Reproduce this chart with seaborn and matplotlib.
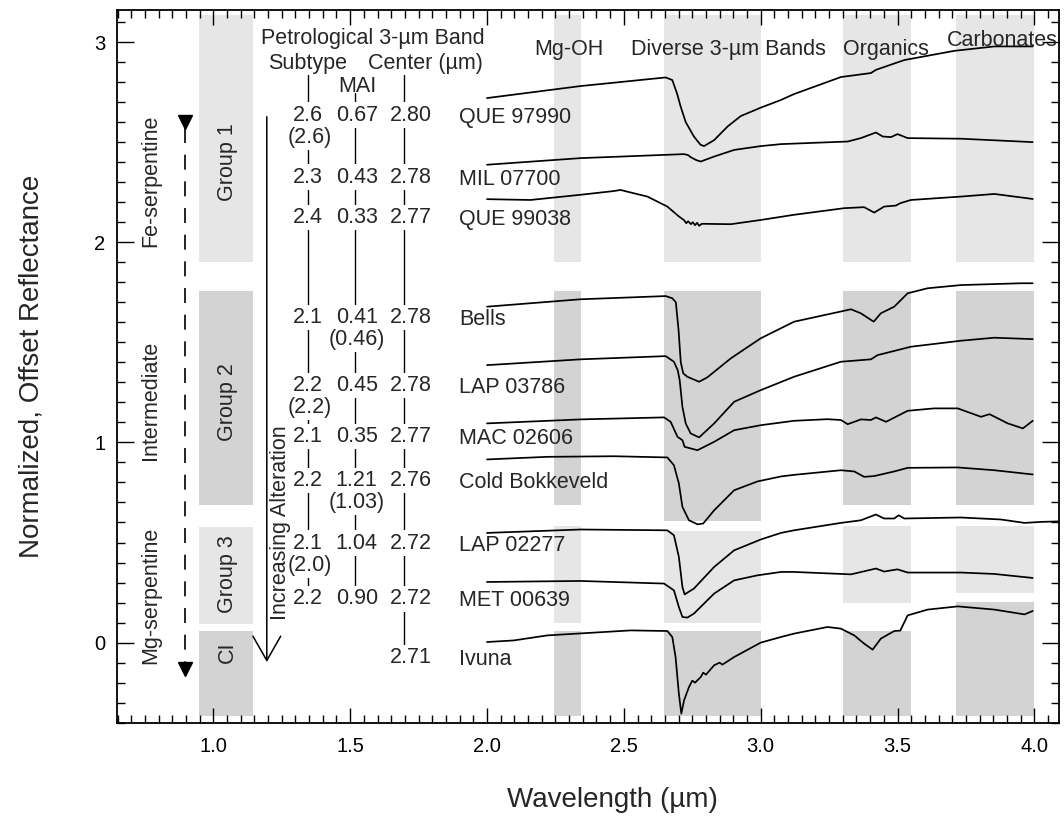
import matplotlib
matplotlib.use("Agg")
import matplotlib.pyplot as plt
import numpy as np
import pandas as pd
import seaborn as sns
from matplotlib.ticker import MultipleLocator

# ---------------- data ----------------
sample_names = ["QUE 97990", "MIL 07700", "QUE 99038", "Bells", "LAP 03786",
                "MAC 02606", "Cold Bokkeveld", "LAP 02277", "MET 00639", "Ivuna"]
subtype = ["2.6", "2.3", "2.4", "2.1", "2.2", "2.1", "2.2", "2.1", "2.2", ""]
subtype_alt = ["(2.6)", "", "", "", "(2.2)", "", "", "(2.0)", "", ""]
mai = ["0.67", "0.43", "0.33", "0.41", "0.45", "0.35", "1.21", "1.04", "0.90", ""]
mai_alt = ["", "", "", "(0.46)", "", "", "(1.03)", "", "", ""]
band_center = ["2.80", "2.78", "2.77", "2.78", "2.78", "2.77", "2.76", "2.72", "2.72", "2.71"]

wl_que97990 = [2.0, 2.342, 2.653, 2.677, 2.695, 2.707, 2.726, 2.756, 2.78, 2.793, 2.83,
               2.879, 2.927, 3.0, 3.073, 3.122, 3.293, 3.403, 3.421, 3.525, 3.708, 3.854, 3.994]
r_que97990 = [2.72, 2.78, 2.823, 2.81, 2.74, 2.68, 2.6, 2.528, 2.487, 2.48, 2.51,
              2.578, 2.63, 2.672, 2.71, 2.74, 2.825, 2.845, 2.861, 2.91, 2.956, 2.978, 2.978]

wl_mil07700 = [2.0, 2.342, 2.72, 2.735, 2.744, 2.765, 2.781, 2.83, 2.903, 3.0, 3.074,
               3.318, 3.366, 3.421, 3.446, 3.476, 3.5, 3.537, 3.732, 3.994]
r_mil07700 = [2.387, 2.42, 2.44, 2.435, 2.425, 2.41, 2.403, 2.428, 2.461, 2.48, 2.49,
              2.503, 2.52, 2.548, 2.528, 2.525, 2.54, 2.52, 2.517, 2.5]

wl_que99038 = [2.0, 2.159, 2.342, 2.46, 2.488, 2.52, 2.586, 2.659, 2.70, 2.72, 2.728, 2.735,
               2.745, 2.752, 2.76, 2.768, 2.775, 2.785, 2.891, 3.0, 3.122, 3.305, 3.378,
               3.415, 3.451, 3.494, 3.51, 3.549, 3.732, 3.854, 3.994]
r_que99038 = [2.215, 2.211, 2.237, 2.255, 2.261, 2.25, 2.228, 2.178, 2.13, 2.11, 2.095, 2.105,
              2.09, 2.1, 2.085, 2.097, 2.082, 2.092, 2.09, 2.111, 2.137, 2.17, 2.175,
              2.148, 2.178, 2.183, 2.195, 2.211, 2.228, 2.241, 2.216]

wl_bells = [2.0, 2.342, 2.653, 2.677, 2.69, 2.70, 2.708, 2.717, 2.732, 2.775, 2.805, 2.891,
            3.0, 3.122, 3.33, 3.366, 3.413, 3.439, 3.488, 3.537, 3.61, 3.732, 3.952, 3.994]
r_bells = [1.678, 1.715, 1.731, 1.72, 1.70, 1.56, 1.40, 1.345, 1.328, 1.303, 1.325, 1.42,
           1.52, 1.603, 1.665, 1.645, 1.603, 1.645, 1.678, 1.745, 1.77, 1.786, 1.795, 1.795]

wl_lap03786 = [2.0, 2.342, 2.653, 2.683, 2.697, 2.704, 2.714, 2.726, 2.744, 2.775, 2.83,
               2.903, 3.0, 3.122, 3.293, 3.403, 3.427, 3.549, 3.732, 3.854, 3.994]
r_lap03786 = [1.386, 1.415, 1.431, 1.403, 1.36, 1.311, 1.178, 1.095, 1.045, 1.025, 1.095,
              1.203, 1.261, 1.328, 1.403, 1.415, 1.436, 1.478, 1.508, 1.523, 1.516]

wl_mac02606 = [2.0, 2.342, 2.647, 2.671, 2.696, 2.714, 2.722, 2.744, 2.769, 2.83, 2.903,
               3.0, 3.122, 3.244, 3.293, 3.318, 3.366, 3.403, 3.421, 3.458, 3.537, 3.634,
               3.72, 3.805, 3.836, 3.903, 3.958, 3.994]
r_mac02606 = [1.095, 1.115, 1.125, 1.103, 1.028, 1.011, 0.978, 0.97, 0.961, 1.003, 1.061,
              1.086, 1.108, 1.116, 1.112, 1.091, 1.115, 1.112, 1.125, 1.103, 1.158, 1.17,
              1.17, 1.128, 1.141, 1.095, 1.07, 1.108]

wl_coldbok = [2.0, 2.22, 2.464, 2.659, 2.683, 2.701, 2.714, 2.738, 2.769, 2.79, 2.83,
              2.903, 2.988, 3.074, 3.122, 3.293, 3.342, 3.378, 3.415, 3.488, 3.537,
              3.72, 3.854, 3.994]
r_coldbok = [0.915, 0.928, 0.931, 0.925, 0.886, 0.795, 0.678, 0.611, 0.591, 0.595, 0.661,
             0.761, 0.805, 0.83, 0.838, 0.861, 0.855, 0.828, 0.832, 0.855, 0.873,
             0.875, 0.861, 0.84]

wl_lap02277 = [2.0, 2.342, 2.659, 2.683, 2.701, 2.714, 2.722, 2.756, 2.83, 2.903, 3.0,
               3.074, 3.122, 3.293, 3.366, 3.421, 3.451, 3.488, 3.504, 3.525, 3.732,
               3.878, 3.964, 4.025, 4.1]
r_lap02277 = [0.548, 0.565, 0.561, 0.536, 0.428, 0.278, 0.241, 0.27, 0.378, 0.461, 0.515,
              0.548, 0.561, 0.598, 0.611, 0.64, 0.62, 0.62, 0.636, 0.62, 0.625,
              0.615, 0.598, 0.603, 0.606]

wl_met00639 = [2.0, 2.342, 2.647, 2.683, 2.701, 2.714, 2.732, 2.756, 2.83, 2.903, 2.988,
               3.074, 3.122, 3.33, 3.421, 3.451, 3.5, 3.537, 3.732, 3.854, 3.994]
r_met00639 = [0.303, 0.308, 0.295, 0.261, 0.178, 0.128, 0.125, 0.145, 0.245, 0.311, 0.336,
              0.353, 0.353, 0.341, 0.37, 0.355, 0.366, 0.35, 0.35, 0.343, 0.323]

wl_ivuna = [2.0, 2.098, 2.22, 2.366, 2.525, 2.659, 2.677, 2.689, 2.701, 2.71, 2.72, 2.738,
            2.75, 2.76, 2.781, 2.79, 2.80, 2.83, 2.85, 2.86, 2.903, 3.0, 3.074, 3.122,
            3.244, 3.293, 3.342, 3.378, 3.409, 3.439, 3.488, 3.51, 3.537, 3.61, 3.72,
            3.854, 3.964, 3.994]
r_ivuna = [0.003, 0.011, 0.036, 0.048, 0.061, 0.058, 0.028, -0.072, -0.255, -0.355, -0.288,
           -0.222, -0.19, -0.2, -0.172, -0.15, -0.16, -0.113, -0.10, -0.11, -0.072, 0.0,
           0.028, 0.045, 0.078, 0.07, 0.036, -0.005, -0.035, 0.02, 0.058, 0.06, 0.136,
           0.165, 0.181, 0.165, 0.141, 0.158]

spectra_wl = [wl_que97990, wl_mil07700, wl_que99038, wl_bells, wl_lap03786,
              wl_mac02606, wl_coldbok, wl_lap02277, wl_met00639, wl_ivuna]
spectra_r = [r_que97990, r_mil07700, r_que99038, r_bells, r_lap03786,
             r_mac02606, r_coldbok, r_lap02277, r_met00639, r_ivuna]

# feature bands (wavelength ranges)
band_labels = ["Mg-OH", "Diverse 3-\u00b5m Bands", "Organics", "Carbonates"]
band_lo = [2.245, 2.645, 3.30, 3.715]
band_hi = [2.345, 3.0, 3.55, 4.0]
# group column on the left
group_labels = ["Group 1", "Group 2", "Group 3", "CI"]
group_col_lo, group_col_hi = 0.947, 1.144
# vertical extents of each group, per column [group col, Mg-OH, Diverse, Organics, Carbonates]
group_top = [[3.137] * 5,
             [1.755] * 5,
             [0.577, 0.583, 0.56, 0.583, 0.583],
             [0.06, 0.06, 0.06, 0.06, 0.203]]
group_bottom = [[1.90] * 5,
                [0.685, 0.687, 0.606, 0.687, 0.687],
                [0.095, 0.098, 0.098, 0.198, 0.25],
                [-0.365] * 5]
group_shade = ["#e6e6e6", "#d3d3d3", "#e6e6e6", "#d3d3d3"]

serp_labels = ["Fe-serpentine", "Intermediate", "Mg-serpentine"]

# ---------------- layout ----------------
row_y = [2.635, 2.325, 2.125, 1.625, 1.284, 1.031, 0.809, 0.497, 0.218, -0.075]
alt_dy = 0.11
x_sub, x_mai, x_band, x_name = 1.347, 1.524, 1.723, 1.897
serp_y = [2.306, 1.2115, 0.235]
group_label_y = [2.399, 1.2015, 0.34, -0.05]
band_label_y = [2.965, 2.965, 2.965, 3.01]
band_label_x = [2.298, 2.883, 3.457, 3.882]

sns.set_style("ticks")
plt.rcParams['font.family'] = ['Liberation Sans', 'DejaVu Sans']
plt.rcParams['axes.unicode_minus'] = False

FS = 15.5
fig = plt.figure(figsize=(10.64, 8.18), dpi=100)
ax = fig.add_axes([0.1097, 0.1165, 0.8856, 0.8713])

# shaded boxes
col_lo = [group_col_lo] + band_lo
col_hi = [group_col_hi] + band_hi
for g in range(len(group_labels)):
    for c in range(len(col_lo)):
        b = group_bottom[g][c]
        t = group_top[g][c]
        ax.bar(col_lo[c], t - b, bottom=b, width=col_hi[c] - col_lo[c], align='edge',
               color=group_shade[g], linewidth=0, zorder=0)

# spectra
frames = []
for name, wl, r in zip(sample_names, spectra_wl, spectra_r):
    frames.append(pd.DataFrame({"wavelength": wl, "reflectance": r, "sample": name}))
df = pd.concat(frames, ignore_index=True)
sns.lineplot(data=df, x="wavelength", y="reflectance", units="sample", estimator=None,
             sort=False, color="black", linewidth=1.25, ax=ax, legend=False, zorder=2)

# column guide lines
ax.plot([x_sub, x_sub], [2.833, row_y[8]], color="black", lw=1.0, zorder=1)
ax.plot([x_mai - 0.006, x_mai - 0.006], [2.747, row_y[8]], color="black", lw=1.0, zorder=1)
ax.plot([1.698, 1.698], [2.833, row_y[9]], color="black", lw=1.0, zorder=1)

wb = dict(facecolor="white", edgecolor="none", pad=1.5)
for i in range(len(sample_names)):
    y = row_y[i]
    if subtype[i]:
        ax.text(x_sub, y, subtype[i], ha="center", va="center", fontsize=FS, bbox=wb, zorder=3)
    if subtype_alt[i]:
        ax.text(x_sub + 0.007, y - alt_dy, subtype_alt[i], ha="center", va="center",
                fontsize=FS, bbox=wb, zorder=3)
    if mai[i]:
        ax.text(x_mai, y, mai[i], ha="center", va="center", fontsize=FS, bbox=wb, zorder=3)
    if mai_alt[i]:
        ax.text(x_mai, y - alt_dy, mai_alt[i], ha="center", va="center", fontsize=FS,
                bbox=wb, zorder=3)
    ax.text(x_band, y, band_center[i], ha="center", va="center", fontsize=FS, bbox=wb, zorder=3)
    ax.text(x_name, y - 0.01, sample_names[i], ha="left", va="center", fontsize=FS, zorder=3)

# headers
ax.text(1.583, 3.02, "Petrological 3-\u00b5m Band", ha="center", va="center", fontsize=FS)
ax.text(1.343, 2.895, "Subtype", ha="center", va="center", fontsize=FS)
ax.text(1.775, 2.895, "Center (\u00b5m)", ha="center", va="center", fontsize=FS)
ax.text(1.526, 2.78, "MAI", ha="center", va="center", fontsize=FS)

for lbl, bx, by in zip(band_labels, band_label_x, band_label_y):
    ax.text(bx, by, lbl, ha="center", va="center", fontsize=FS)

for lbl, gy in zip(group_labels, group_label_y):
    ax.text(1.05, gy, lbl, ha="center", va="center", rotation=90, fontsize=FS)

for lbl, sy in zip(serp_labels, serp_y):
    ax.text(0.770, sy, lbl, ha="center", va="center", rotation=90, fontsize=FS)

# dashed arrow
ax.plot([0.896, 0.896], [2.57, -0.10], color="black", lw=1.2, dashes=(9, 7), zorder=2)
ax.plot([0.896], [2.60], marker="v", markersize=10, color="black", zorder=3)
ax.plot([0.896], [-0.13], marker="v", markersize=10, color="black", zorder=3)

# increasing alteration arrow
ax.annotate("", xy=(1.1954, -0.097), xytext=(1.1954, 2.6265),
            arrowprops=dict(arrowstyle="->,head_length=1.75,head_width=1.0",
                            lw=1.1, color="black", shrinkA=0, shrinkB=0,
                            mutation_scale=10), zorder=3)
ax.text(1.244, 0.60, "Increasing Alteration", ha="center", va="center", rotation=90,
        fontsize=FS, zorder=5)

# axes formatting
ax.set_xlim(0.647, 4.09)
ax.set_ylim(-0.40, 3.16)
ax.xaxis.set_major_locator(MultipleLocator(0.5))
ax.xaxis.set_minor_locator(MultipleLocator(0.05))
ax.yaxis.set_major_locator(MultipleLocator(1))
ax.yaxis.set_minor_locator(MultipleLocator(0.1))
ax.xaxis.set_major_formatter(matplotlib.ticker.FormatStrFormatter("%.1f"))
ax.tick_params(which="both", direction="in", top=True, right=True, colors="black",
               labelsize=14.5, width=1.0)
ax.tick_params(axis="x", which="major", length=11, pad=10)
ax.tick_params(axis="y", which="major", length=12, pad=8)
ax.tick_params(which="minor", length=5.5)
for s in ax.spines.values():
    s.set_linewidth(1.3)
    s.set_color("black")

ax.set_xlabel("Wavelength (\u00b5m)", fontsize=20)
ax.set_ylabel("Normalized, Offset Reflectance", fontsize=20)
ax.xaxis.set_label_coords(0.526, -0.09)
ax.yaxis.set_label_coords(-0.077, 0.5)

fig.savefig("out.png", dpi=100)
